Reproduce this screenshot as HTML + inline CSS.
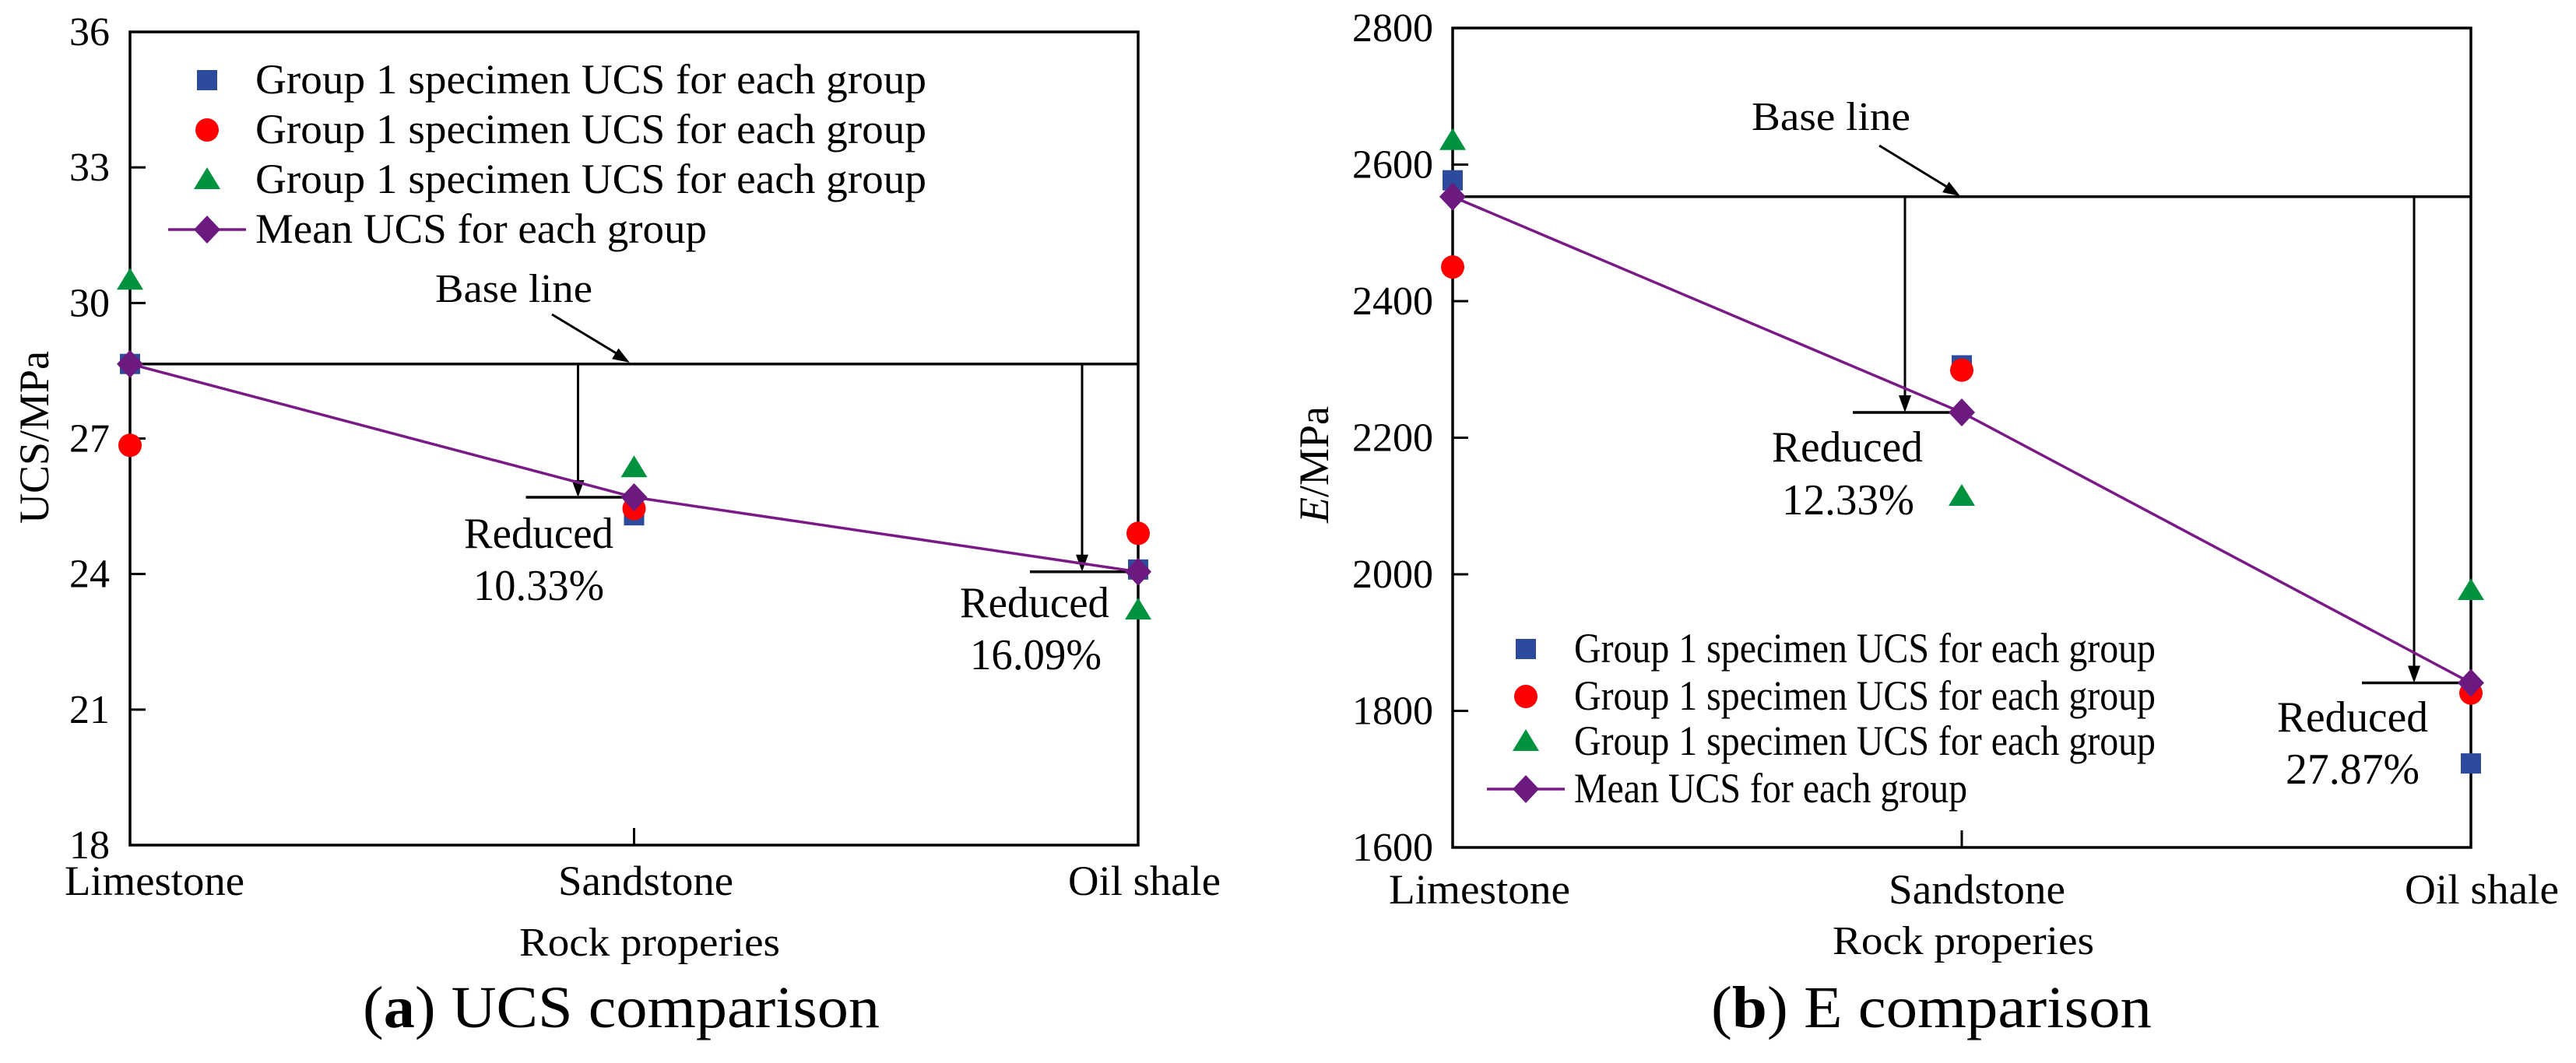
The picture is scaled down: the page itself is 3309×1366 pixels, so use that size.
<!DOCTYPE html>
<html><head><meta charset="utf-8"><style>
html,body{margin:0;padding:0;background:#fff;}
svg{display:block;font-family:"Liberation Serif","Times New Roman",serif;}
svg text, svg tspan{font-family:"Liberation Serif","Times New Roman",serif;fill:#000;}
</style></head><body>
<svg id="fig" width="3309" height="1366" viewBox="0 0 3309 1366" xmlns="http://www.w3.org/2000/svg" font-family="Liberation Serif, serif">
<rect width="3309" height="1366" fill="#fff"/>
</svg>
<script>
// ---- Data ----
const categories = ["Limestone", "Sandstone", "Oil shale"];
const ucsSquare = [28.65, 25.3, 24.1];
const ucsCircle = [26.85, 25.45, 24.9];
const ucsTriangle = [30.5, 26.35, 23.2];
const ucsMean = [28.65, 25.7, 24.05];
const ucsTicks = [18, 21, 24, 27, 30, 33, 36];
const ucsReduced = ["10.33%", "16.09%"];
const eSquare = [2577, 2306, 1723];
const eCircle = [2450, 2299, 1826];
const eTriangle = [2635, 2114, 1976];
const eMean = [2553, 2237, 1841];
const eTicks = [1600, 1800, 2000, 2200, 2400, 2600, 2800];
const eReduced = ["12.33%", "27.87%"];
const legendLabels = ["Group 1 specimen UCS for each group","Group 1 specimen UCS for each group","Group 1 specimen UCS for each group","Mean UCS for each group"];

const NS = "http://www.w3.org/2000/svg";
const FONT = "Liberation Serif, Times New Roman, serif";
const svg = document.getElementById("fig");
function mk(tag, attrs, parent, txt){
  const e = document.createElementNS(NS, tag);
  for (const k in attrs) e.setAttribute(k, attrs[k]);
  if (tag === "text") e.setAttribute("font-family", FONT);
  if (txt !== undefined) e.textContent = txt;
  (parent || svg).appendChild(e);
  return e;
}
function sq(g,x,y){return mk("rect",{x:x-13,y:y-13,width:26,height:26,fill:"#2d4b9c"},g);}
function ci(g,x,y){return mk("circle",{cx:x,cy:y,r:15,fill:"#ff0000"},g);}
function tr(g,x,y){return mk("polygon",{points:`${x},${y-16} ${x+17},${y+12} ${x-17},${y+12}`,fill:"#00923f"},g);}
function di(g,x,y){return mk("polygon",{points:`${x},${y-18} ${x+17},${y} ${x},${y+18} ${x-17},${y}`,fill:"#6c1a7f"},g);}
function arrowDown(g,x,y1,y2){
  mk("line",{x1:x,y1:y1,x2:x,y2:y2-20,stroke:"#000","stroke-width":3},g);
  mk("polygon",{points:`${x-8},${y2-22} ${x+8},${y2-22} ${x},${y2}`,fill:"#000"},g);
}

function chart(cfg){
  const g = mk("g",{});
  
  
  const L=cfg.L,R=cfg.R,T=cfg.T,B=cfg.B;
  const xs = i => L + (R-L)*i/(categories.length-1);
  const ys = v => B - (v-cfg.ymin)/(cfg.ymax-cfg.ymin)*(B-T);
  const fr = mk("rect",{x:L,y:T,width:R-L,height:B-T,fill:"none",stroke:"#000","stroke-width":3.5},g);
  
  
  cfg.ticks.forEach(t=>{
    const y=ys(t);
    if (t!==cfg.ymin && t!==cfg.ymax) mk("line",{x1:L,y1:y,x2:L+20,y2:y,stroke:"#000","stroke-width":3},g);
    const tl = mk("text",{x:cfg.tickX,y:y+17,"text-anchor":"end","font-size":52},g,String(t));
    
    
  });
  mk("line",{x1:xs(1),y1:B,x2:xs(1),y2:B-22,stroke:"#000","stroke-width":3},g);
  categories.forEach((c,i)=>{
    const cl = mk("text",{x:cfg.catX[i],y:cfg.catY,"font-size":54,textLength:cfg.catW[i],lengthAdjust:"spacingAndGlyphs"},g,c);
    
    
  });
  const xt = mk("text",{x:cfg.xtX,y:cfg.xtY,"font-size":52,textLength:cfg.xtW,lengthAdjust:"spacingAndGlyphs"},g,"Rock properies");
  
  
  const yt = mk("text",{x:0,y:0,"font-size":54,"text-anchor":"middle",transform:`translate(${cfg.ytX},${cfg.ytY}) rotate(-90)`},g);
  if (cfg.italicE){ mk("tspan",{"font-style":"italic"},yt,"E"); mk("tspan",{},yt,"/MPa"); }
  else yt.textContent="UCS/MPa";
  
  
  const by = ys(cfg.mean[0]);
  const bl = mk("line",{x1:L,y1:by,x2:R,y2:by,stroke:"#000","stroke-width":3.5},g);
  
  
  const blt = mk("text",{x:cfg.blX,y:cfg.blY,"font-size":52,textLength:cfg.blW,lengthAdjust:"spacingAndGlyphs"},g,"Base line");
  
  
  const a = cfg.blArrow;
  mk("line",{x1:a[0],y1:a[1],x2:a[2]-14,y2:a[3]-10,stroke:"#000","stroke-width":3},g);
  const ang=Math.atan2(a[3]-a[1],a[2]-a[0]);
  const hx=a[2]-22*Math.cos(ang), hy=a[3]-22*Math.sin(ang);
  mk("polygon",{points:`${a[2]},${a[3]} ${hx+8*Math.sin(ang)},${hy-8*Math.cos(ang)} ${hx-8*Math.sin(ang)},${hy+8*Math.cos(ang)}`,fill:"#000"},g);
  [1,2].forEach(i=>{
    const my = ys(cfg.mean[i]);
    const ax = xs(i) - cfg.arrowOff;
    arrowDown(g,ax,by,my);
    mk("line",{x1:xs(i)-cfg.barW,y1:my,x2:xs(i),y2:my,stroke:"#000","stroke-width":3.5},g);
    const r = cfg.red[i-1];
    const t1 = mk("text",{x:r[0],y:r[1],"font-size":56,textLength:r[2],lengthAdjust:"spacingAndGlyphs"},g,"Reduced");
    
    
    const t2 = mk("text",{x:r[3],y:r[4],"font-size":56,textLength:r[5],lengthAdjust:"spacingAndGlyphs"},g,cfg.redVals[i-1]);
    
    
  });
  cfg.sqv.forEach((v,i)=>{const m=sq(g,xs(i),ys(v));  });
  cfg.civ.forEach((v,i)=>{const m=ci(g,xs(i),ys(v));  });
  cfg.trv.forEach((v,i)=>{const m=tr(g,xs(i),ys(v));  });
  const pl = mk("polyline",{points:cfg.mean.map((v,i)=>`${xs(i)},${ys(v)}`).join(" "),fill:"none",stroke:"#7a1a86","stroke-width":3.5},g);
  
  
  cfg.mean.forEach((v,i)=>{const m=di(g,xs(i),ys(v));  });
  const lg = mk("g",{},g);
  
  
  const fns=[sq,ci,tr,di];
  legendLabels.forEach((lab,i)=>{
    const y=cfg.legY[i];
    if(i===3) mk("line",{x1:cfg.legMX-50,y1:y,x2:cfg.legMX+50,y2:y,stroke:"#7a1a86","stroke-width":3.5},lg);
    fns[i](lg,cfg.legMX,y);
    const lt = mk("text",{x:cfg.legTX,y:y+17,"font-size":54,textLength:(i===3?cfg.legW2:cfg.legW),lengthAdjust:"spacingAndGlyphs"},lg,lab);
    
    
  });
  const cap = mk("text",{x:cfg.capX,y:1320,"font-size":76,textLength:cfg.capW,lengthAdjust:"spacingAndGlyphs"},g);
  mk("tspan",{},cap,"("); mk("tspan",{"font-weight":"bold"},cap,cfg.capL); mk("tspan",{},cap,") "+cfg.capT);
  
  
}

chart({name:"ucs-chart",L:167,R:1462,T:41,B:1086,ymin:18,ymax:36,ticks:ucsTicks,tickX:141,
  catX:[83,717,1372],catW:[231,225,196],catY:1150,xtX:667,xtY:1228,xtW:335,ytX:62,ytY:562,
  blX:559,blY:388,blW:202,blArrow:[709,404,809,466],arrowOff:72,barW:139,
  red:[[596,704,192,608,771,168],[1233,793,192,1246,860,169]],redVals:ucsReduced,
  sqv:ucsSquare,civ:ucsCircle,trv:ucsTriangle,mean:ucsMean,
  legMX:266,legTX:328,legY:[103,167,231,295],legW:862,legW2:580,
  capX:466,capW:664,capL:"a",capT:"UCS comparison"});

chart({name:"e-chart",L:1866,R:3174,T:36,B:1089,ymin:1600,ymax:2800,ticks:eTicks,tickX:1841,
  catX:[1784,2426,3089],catW:[233,227,198],catY:1161,xtX:2354,xtY:1226,xtW:336,ytX:1706,ytY:597,italicE:true,
  blX:2250,blY:167,blW:204,blArrow:[2414,187,2518,252],arrowOff:73,barW:140,
  red:[[2276,593,194,2289,661,170],[2925,940,194,2936,1007,172]],redVals:eReduced,
  sqv:eSquare,civ:eCircle,trv:eTriangle,mean:eMean,
  legMX:1960,legTX:2022,legY:[834,895,953,1014],legW:747,legW2:505,
  capX:2198,capW:566,capL:"b",capT:"E comparison"});
</script>
</body></html>
